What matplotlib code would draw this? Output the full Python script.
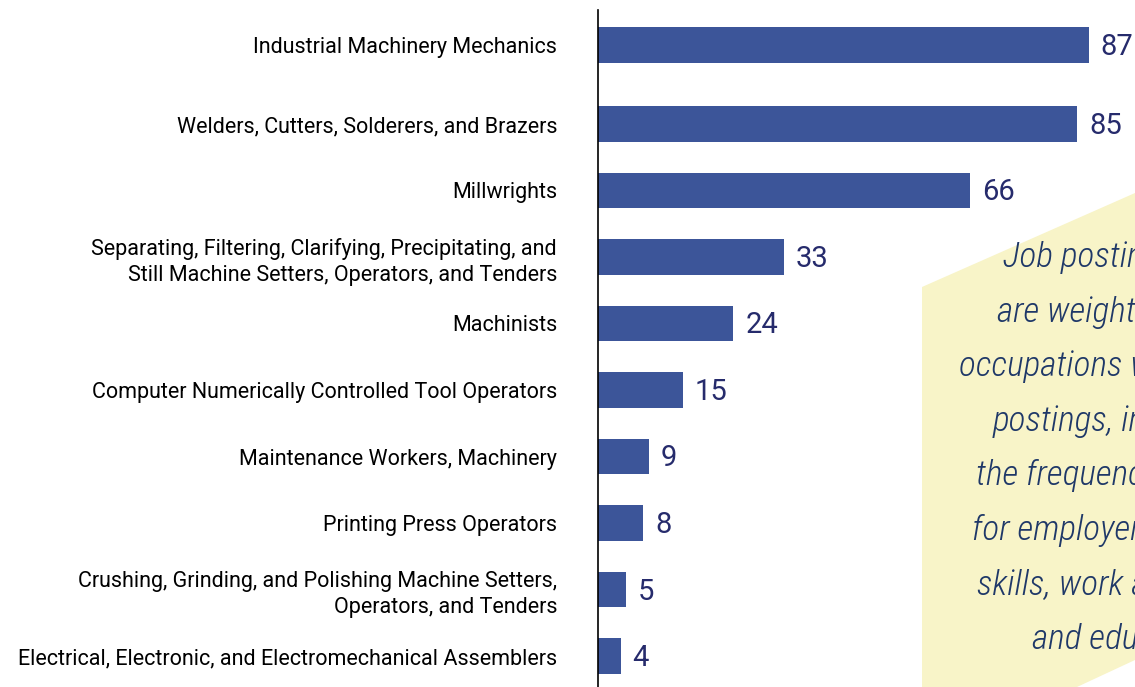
import numpy as np
import matplotlib.pyplot as plt
from matplotlib.patches import Polygon

occupations = [
    "Industrial Machinery Mechanics",
    "Welders, Cutters, Solderers, and Brazers",
    "Millwrights",
    "Separating, Filtering, Clarifying, Precipitating, and\nStill Machine Setters, Operators, and Tenders",
    "Machinists",
    "Computer Numerically Controlled Tool Operators",
    "Maintenance Workers, Machinery",
    "Printing Press Operators",
    "Crushing, Grinding, and Polishing Machine Setters,\nOperators, and Tenders",
    "Electrical, Electronic, and Electromechanical Assemblers",
]
postings = [87, 85, 66, 33, 24, 15, 9, 8, 5, 4]

note_lines = [
    "Job postings",
    "are weighted",
    "occupations with",
    "postings, in",
    "the frequency",
    "for employers",
    "skills, work a",
    "and education",
]
note_x = [1003, 997, 959, 993, 976, 972, 977, 1032]

bar_color = "#3c5599"
num_color = "#262b6c"
note_color = "#1f3868"

fig = plt.figure(figsize=(11.35, 6.87), dpi=100)
W, H = 1135, 687

# yellow callout behind everything
poly = Polygon([(922 / W, 1 - 287 / H), (1, 1 - 193 / H), (1, 1 - 660 / H),
                (1077 / W, 0), (922 / W, 0)], closed=True,
               facecolor="#f8f4c8", edgecolor="none", transform=fig.transFigure, zorder=0)
fig.patches.append(poly)

ax = fig.add_axes([598 / W, 0, 1 - 598 / W, 1 - 10 / H])
ax.patch.set_alpha(0)

y = np.arange(len(postings), dtype=float)
y[0] -= 0.19
ax.barh(y, postings, height=0.54, color=bar_color, zorder=2)
ax.set_xlim(0, 95.2)
ax.set_ylim(9.466, -0.714)

for yi, v in zip(y, postings):
    ax.text(v + 2.1, yi + 0.03, str(v), va="center", ha="left", fontsize=21,
            family="Roboto", fontweight="normal", color=num_color, zorder=3)

ax.set_yticks(y)
ax.set_yticklabels(occupations, fontsize=15.5, family="Roboto", ha="right",
                   multialignment="right", linespacing=1.3)
ax.tick_params(axis="y", length=0, pad=29.5)
ax.set_xticks([])
for s in ["top", "right", "bottom"]:
    ax.spines[s].set_visible(False)
ax.spines["left"].set_linewidth(1.2)

for i, (line, lx) in enumerate(zip(note_lines, note_x)):
    fig.text(lx / W, 1 - (258 + i * 54.5) / H, line, ha="left", va="center",
             fontsize=25.5, style="italic", family=["Roboto Condensed", "Roboto"],
             fontweight="light", color=note_color)

fig.savefig("out.png", dpi=100)
